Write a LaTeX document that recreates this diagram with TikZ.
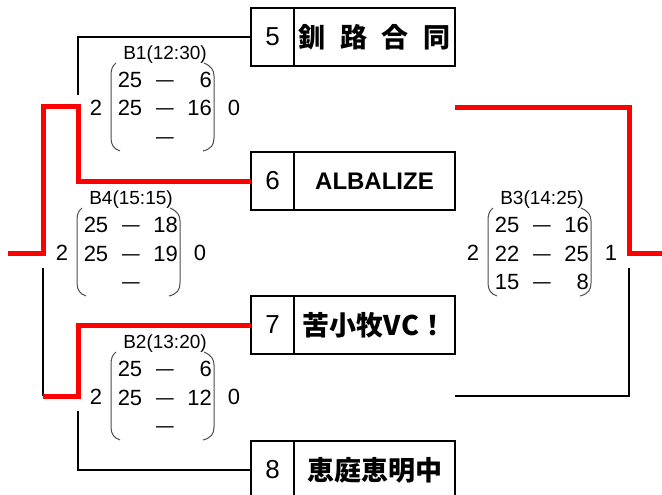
\documentclass[tikz,border=0pt]{standalone}
\usepackage{fontspec}
\setmainfont{Liberation Sans}
\newfontfamily\jp{Noto Sans CJK JP}
\usetikzlibrary{positioning}

\tikzset{
    bline/.style={line width=2pt},
    rline/.style={line width=5pt, red},
    numbox/.style={draw, line width=2pt, outer sep=0pt, inner sep=0pt, minimum width=43pt, minimum height=58pt, font=\fontsize{26}{26}\selectfont},
    namebox/.style={draw, line width=2pt, outer sep=0pt, inner sep=0pt, minimum width=161pt, minimum height=58pt, font=\fontsize{24}{24}\selectfont\bfseries},
    setlbl/.style={inner sep=0pt, font=\fontsize{19}{19}\selectfont},
    pts/.style={inner sep=0pt, font=\fontsize{22}{22}\selectfont},
    paren/.style={line width=1pt, black!70}
}

% one set block: name, centre, label, left, right, rows
\newcommand{\setblock}[6]{%
  \begin{scope}[shift={#2}]
    \node[setlbl] (#1) at (0,-53) {#3};
    \node[pts] (#1l) at (-69,0) {#4};
    \node[pts] (#1r) at (69,0) {#5};
    \foreach \a/\b [count=\i] in {#6} {
      \node[pts, anchor=base] (#1a\i) at (-35,{28.5*(\i-2)+8}) {\a};
      \node[pts, anchor=base] (#1d\i) at (0,{28.5*(\i-2)+8}) {\jp —};
      \node[pts, anchor=base east] (#1b\i) at (47,{28.5*(\i-2)+8}) {\b};
    }
    \draw[paren] (-49,-45) .. controls (-53,-42) and (-54,-38) .. (-54,-32) -- (-54,30) .. controls (-54,37) and (-51,41) .. (-45,43);
    \draw[paren] (39,-45) .. controls (46,-42) and (49,-38) .. (49,-32) -- (49,30) .. controls (49,37) and (46,41) .. (38,43);
  \end{scope}}

\begin{document}
\begin{tikzpicture}[x=1pt, y=-1pt]
\useasboundingbox (0,0) rectangle (662,495);

% teams
\node[numbox] (n5) at (272.5,37) {5};
\node[namebox, right=0pt of n5] (t5) {\jp\fontsize{27}{27}\selectfont\makebox[152pt][s]{釧 路 合 同}};
\node[numbox] (n6) at (272.5,181) {6};
\node[namebox, right=0pt of n6] (t6) {ALBALIZE};
\node[numbox] (n7) at (272.5,325) {7};
\node[namebox, right=0pt of n7] (t7) {\jp\fontsize{27}{27}\selectfont 苦小牧VC！};
\node[numbox] (n8) at (272.5,470) {8};
\node[namebox, right=0pt of n8] (t8) {\jp\fontsize{27}{27}\selectfont 恵庭恵明中};

% sets
\setblock{b1}{(165,108)}{B1(12:30)}{2}{0}{25/6,25/16,{}/{}}
\setblock{b4}{(131,253)}{B4(15:15)}{2}{0}{25/18,25/19,{}/{}}
\setblock{b2}{(165,397)}{B2(13:20)}{2}{0}{25/6,25/12,{}/{}}
\setblock{b3}{(542,253)}{B3(14:25)}{2}{1}{25/16,22/25,15/8}

% joints
\coordinate (b1top) at (78,95);
\coordinate (j1) at (78,107);
\coordinate (j4) at (43,253);
\coordinate (w) at (8,253);
\coordinate (b4bot) at (43,268);
\coordinate (j2) at (43,396);
\coordinate (k2) at (78,396);
\coordinate (b2bot) at (78,411);
\coordinate (f1) at (455,108);
\coordinate (j3) at (629,253);
\coordinate (e) at (662,253);
\coordinate (b3bot) at (629,268);
\coordinate (f2) at (455,396);

\draw[bline] (n5.west) -| (b1top);
\draw[bline] (b4bot) -- (j2);
\draw[bline] (b2bot) |- (n8.west);
\draw[bline] (b3bot) |- (f2);
\draw[rline] (n6.west) -| (j1) -| (j4) -- (w);
\draw[rline] (n7.west) -| (k2) -- (j2);
\draw[rline] (f1) -| (j3) -- (e);
\end{tikzpicture}
\end{document}
